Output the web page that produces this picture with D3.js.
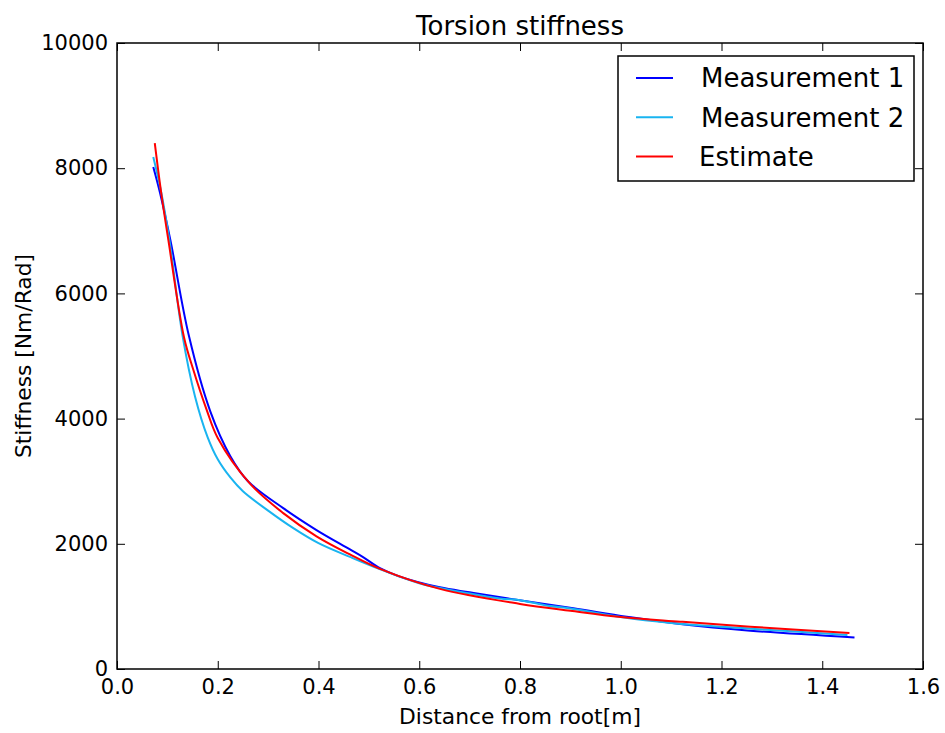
<!DOCTYPE html>
<html>
<head>
<meta charset="utf-8">
<script src="https://cdn.jsdelivr.net/npm/d3@7"></script>
<style>
    html, body { margin: 0; padding: 0; background: #fff; }
    svg text { font-family: "DejaVu Sans", sans-serif; fill: #000; }
</style>
</head>
<body>
<div id="chart"></div>
<script>
// values
const xTicks = [0.0, 0.2, 0.4, 0.6, 0.8, 1.0, 1.2, 1.4, 1.6]
const yTicks = [0, 2000, 4000, 6000, 8000, 10000]

const measurement1 = [
    [0.072, 8020], [0.085, 7620], [0.106, 6850], [0.1425, 5330], [0.185, 4120],
    [0.225, 3400], [0.26, 3000], [0.33, 2570], [0.396, 2220], [0.4625, 1910],
    [0.49, 1780], [0.522, 1610], [0.56, 1480], [0.641, 1305], [0.70, 1225],
    [0.774, 1130], [0.906, 970], [1.012, 836], [1.118, 719], [1.257, 612],
    [1.464, 505]
]
const measurement2 = [
    [0.072, 8180], [0.087, 7650], [0.104, 6850], [0.130, 5330], [0.155, 4350],
    [0.18, 3700], [0.20, 3350], [0.225, 3060], [0.25, 2840], [0.30, 2530],
    [0.35, 2250], [0.40, 2010], [0.4625, 1790], [0.52, 1600], [0.60, 1370],
    [0.70, 1205], [0.76, 1125], [0.80, 1100], [0.85, 1020], [0.906, 960],
    [1.0, 830], [1.1, 735], [1.257, 644], [1.45, 545]
]
const estimate = [
    [0.075, 8400], [0.087, 7650], [0.102, 6850], [0.133, 5300], [0.1515, 4780],
    [0.178, 4140], [0.20, 3690], [0.264, 2960], [0.33, 2490], [0.396, 2120],
    [0.4625, 1830], [0.522, 1600], [0.641, 1280], [0.80, 1040], [0.90, 930],
    [1.0, 830], [1.118, 756], [1.257, 676], [1.454, 575]
]

const series = [
    { name: "Measurement 1", color: "#0000ff", data: measurement1 },
    { name: "Measurement 2", color: "#19b4f0", data: measurement2 },
    { name: "Estimate", color: "#ff0000", data: estimate }
]

const width = 945, height = 733
const margin = { top: 43, right: 22, bottom: 64, left: 117 }
const innerW = width - margin.left - margin.right
const innerH = height - margin.top - margin.bottom

const svg = d3.select("#chart").append("svg")
    .attr("width", width)
    .attr("height", height)

const x = d3.scaleLinear().domain([0, 1.6]).range([0, innerW])
const y = d3.scaleLinear().domain([0, 10000]).range([innerH, 0])

const g = svg.append("g")
    .attr("transform", `translate(${margin.left},${margin.top})`)

// lines
const line = d3.line()
    .x(d => x(d[0]))
    .y(d => y(d[1]))
    .curve(d3.curveCatmullRom.alpha(0.5))

g.selectAll("path.series")
    .data(series)
    .enter()
    .append("path")
    .attr("class", "series")
    .attr("fill", "none")
    .attr("stroke", d => d.color)
    .attr("stroke-width", 2)
    .attr("d", d => line(d.data))

// axes, ticks pointing inward like the classic matplotlib style
const fontSize = 21
const axisB = g.append("g")
    .attr("transform", `translate(0,${innerH})`)
    .call(d3.axisBottom(x).tickValues(xTicks).tickFormat(d3.format(".1f"))
        .tickSize(-8).tickSizeOuter(0).tickPadding(10))
const axisL = g.append("g")
    .call(d3.axisLeft(y).tickValues(yTicks).tickFormat(d => d)
        .tickSize(-8).tickSizeOuter(0).tickPadding(9))
const axisT = g.append("g")
    .call(d3.axisTop(x).tickValues(xTicks).tickFormat("")
        .tickSize(-8).tickSizeOuter(0))
const axisR = g.append("g")
    .attr("transform", `translate(${innerW},0)`)
    .call(d3.axisRight(y).tickValues(yTicks).tickFormat("")
        .tickSize(-8).tickSizeOuter(0))

for (const ax of [axisB, axisL, axisT, axisR]) {
    ax.select(".domain").remove()
    ax.selectAll(".tick line").attr("stroke", "#000").attr("stroke-width", 1)
    ax.selectAll("text")
        .style("font-family", "DejaVu Sans, sans-serif")
        .style("font-size", fontSize + "px")
        .attr("fill", "#000")
}

// frame
g.append("rect")
    .attr("width", innerW)
    .attr("height", innerH)
    .attr("fill", "none")
    .attr("stroke", "#000")
    .attr("stroke-width", 1.5)

// title and axis labels
svg.append("text")
    .attr("x", margin.left + innerW / 2)
    .attr("y", 35)
    .attr("text-anchor", "middle")
    .style("font-size", "26px")
    .text("Torsion stiffness")

svg.append("text")
    .attr("x", margin.left + innerW / 2)
    .attr("y", 724)
    .attr("text-anchor", "middle")
    .style("font-size", "21.8px")
    .text("Distance from root[m]")

svg.append("text")
    .attr("transform", `translate(31,${margin.top + innerH / 2}) rotate(-90)`)
    .attr("text-anchor", "middle")
    .style("font-size", "21.8px")
    .text("Stiffness [Nm/Rad]")

// legend
const legend = svg.append("g")
    .attr("transform", "translate(618,56)")

legend.append("rect")
    .attr("width", 296)
    .attr("height", 125)
    .attr("fill", "#fff")
    .attr("stroke", "#000")
    .attr("stroke-width", 1.5)

const item = legend.selectAll("g.item")
    .data(series)
    .enter()
    .append("g")
    .attr("class", "item")
    .attr("transform", (d, i) => `translate(0,${22 + i * 39.3})`)

item.append("line")
    .attr("x1", 18).attr("x2", 55)
    .attr("stroke", d => d.color)
    .attr("stroke-width", 2)

item.append("text")
    .attr("x", (d, i) => i == 2 ? 81 : 83)
    .attr("dy", "0.36em")
    .style("font-size", "26px")
    .text(d => d.name)
</script>
</body>
</html>
